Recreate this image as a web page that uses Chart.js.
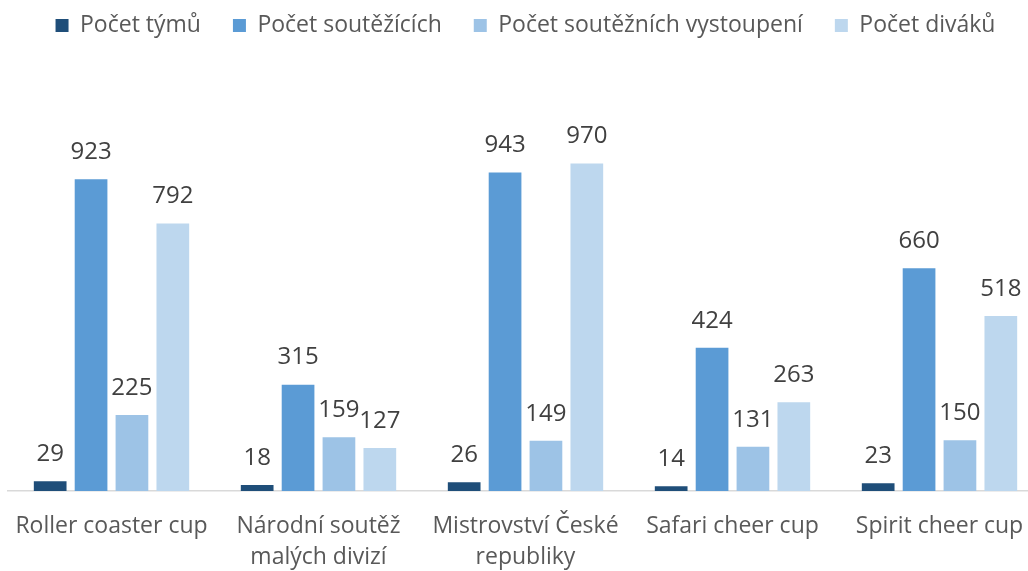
<!DOCTYPE html>
<html>
<head>
<meta charset="utf-8">
<script src="https://cdn.jsdelivr.net/npm/chart.js@4"></script>
<style>
  html, body { margin: 0; padding: 0; background: #fff; overflow: hidden; }
  #wrap { width: 1046px; height: 571px; }
</style>
</head>
<body>
<div id="wrap"><canvas id="chart"></canvas></div>
<script>
  const categories = [
    "Roller coaster cup",
    ["Národní soutěž", "malých divizí"],
    ["Mistrovství České", "republiky"],
    "Safari cheer cup",
    "Spirit cheer cup"
  ];
  const seriesNames = ["Počet týmů", "Počet soutěžících", "Počet soutěžních vystoupení", "Počet diváků"];
  const teams = [29, 18, 26, 14, 23];
  const competitors = [923, 315, 943, 424, 660];
  const performances = [225, 159, 149, 131, 150];
  const spectators = [792, 127, 970, 263, 518];
  const colors = ["#1f4e79", "#5b9bd5", "#9dc3e6", "#bdd7ee"];

  const fontFamily = "'Open Sans', sans-serif";

  // draw the value above every bar
  const valueLabels = {
    id: "valueLabels",
    afterDatasetsDraw(chart) {
      const ctx = chart.ctx;
      ctx.save();
      ctx.font = "24px " + fontFamily;
      ctx.fillStyle = "#404040";
      ctx.textAlign = "center";
      ctx.textBaseline = "middle";
      chart.data.datasets.forEach((ds, i) => {
        chart.getDatasetMeta(i).data.forEach((bar, j) => {
          ctx.fillText(ds.data[j], bar.x, bar.y - 27);
        });
      });
      ctx.restore();
    }
  };

  const data = [teams, competitors, performances, spectators];

  new Chart(document.getElementById("chart"), {
    type: "bar",
    data: {
      labels: categories,
      datasets: seriesNames.map((name, i) => ({
        label: name,
        data: data[i],
        backgroundColor: colors[i],
        categoryPercentage: 0.79,
        barPercentage: 0.8
      }))
    },
    options: {
      responsive: true,
      maintainAspectRatio: false,
      animation: false,
      layout: { padding: { left: 8, right: 3, top: -18, bottom: 0 } },
      plugins: {
        tooltip: { enabled: false },
        legend: {
          position: "top",
          labels: {
            boxWidth: 13,
            boxHeight: 13,
            padding: 32,
            color: "#595959",
            font: { family: fontFamily, size: 23 }
          }
        }
      },
      scales: {
        x: {
          afterFit: (scale) => {
            scale.height = 80;
            scale.paddingLeft = 0;
            scale.paddingRight = 0;
          },
          grid: { display: false, drawTicks: false },
          border: { color: "#d9d9d9", width: 1.5 },
          ticks: {
            color: "#595959",
            padding: 20,
            maxRotation: 0,
            autoSkip: false,
            font: { family: fontFamily, size: 23, lineHeight: 1.35 }
          }
        },
        y: {
          display: false,
          beginAtZero: true,
          max: 1315
        }
      }
    },
    plugins: [valueLabels]
  });
</script>
</body>
</html>
